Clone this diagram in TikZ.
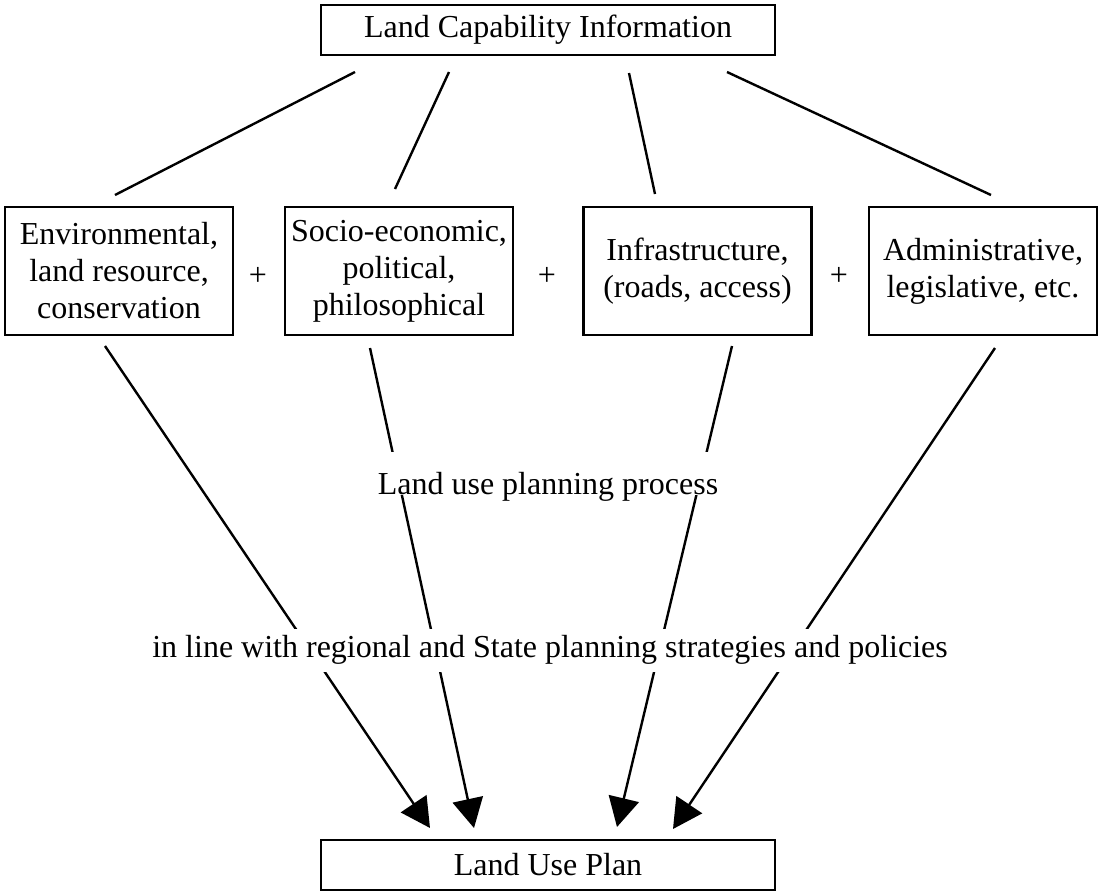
\documentclass[tikz,border=0pt]{standalone}
\usepackage{fontspec}
\setmainfont{Liberation Serif}
\usetikzlibrary{arrows.meta}
\begin{document}
\begin{tikzpicture}[x=0.75pt,y=-0.75pt,
  txt/.style={font=\fontsize{24}{27.75}\selectfont},
  box/.style={txt, draw, line width=2.2pt, align=center, inner sep=0pt},
  widebox/.style={box, minimum width=340.5pt, minimum height=37.5pt},
  factor/.style={box, minimum width=171pt, minimum height=96pt},
  conn/.style={line width=1.8pt},
  arr/.style={conn, -{Triangle[length=22pt 0,width=23pt 0]}},
  plus/.style={txt, inner sep=0pt},
  lbl/.style={txt, fill=white, inner xsep=3pt, inner ysep=0pt, anchor=base}
]
\fill[white] (0,0) rectangle (1101,893);
\useasboundingbox (0,0) rectangle (1101,893);

% boxes
\node[widebox] (cap) at (548,30) {Land Capability Information};
\node[factor] (env) at (119,271) {Environmental,\\land resource,\\conservation};
\node[factor] (soc) at (399,271) {Socio-economic,\\political,\\philosophical};
\node[factor] (inf) at (697.5,271) {Infrastructure,\\(roads, access)};
\node[factor] (adm) at (983,271) {Administrative,\\legislative, etc.};
\node[widebox] (plan) at (548,865) {Land Use Plan};

% plus signs
\node[plus] (p1) at (258,276) {+};
\node[plus] (p2) at (547,276) {+};
\node[plus] (p3) at (839,276) {+};

% connector end points
\coordinate (t1s) at (355,72);  \coordinate (t1e) at (115,195);
\coordinate (t2s) at (449,72);  \coordinate (t2e) at (395,189);
\coordinate (t3s) at (629,73);  \coordinate (t3e) at (655,194);
\coordinate (t4s) at (727,72);  \coordinate (t4e) at (991,195);

\coordinate (b1s) at (105,346); \coordinate (b1e) at (430,828);
\coordinate (b2s) at (370,348); \coordinate (b2e) at (474,828);
\coordinate (b3s) at (732,346); \coordinate (b3e) at (617,827);
\coordinate (b4s) at (995,348); \coordinate (b4e) at (673,829);

% upper connectors
\draw[conn] (t1s) -- (t1e);
\draw[conn] (t2s) -- (t2e);
\draw[conn] (t3s) -- (t3e);
\draw[conn] (t4s) -- (t4e);

% lower connectors
\draw[arr] (b1s) -- (b1e);
\draw[arr] (b2s) -- (b2e);
\draw[arr] (b3s) -- (b3e);
\draw[arr] (b4s) -- (b4e);

% labels over the connectors
\node[lbl, text height=31.5pt, text depth=0.75pt] (proc) at (548,494) {Land use planning process};
\node[lbl, text height=21pt, text depth=11pt] (pol) at (550,657) {in line with regional and State planning strategies and policies};
\end{tikzpicture}
\end{document}
